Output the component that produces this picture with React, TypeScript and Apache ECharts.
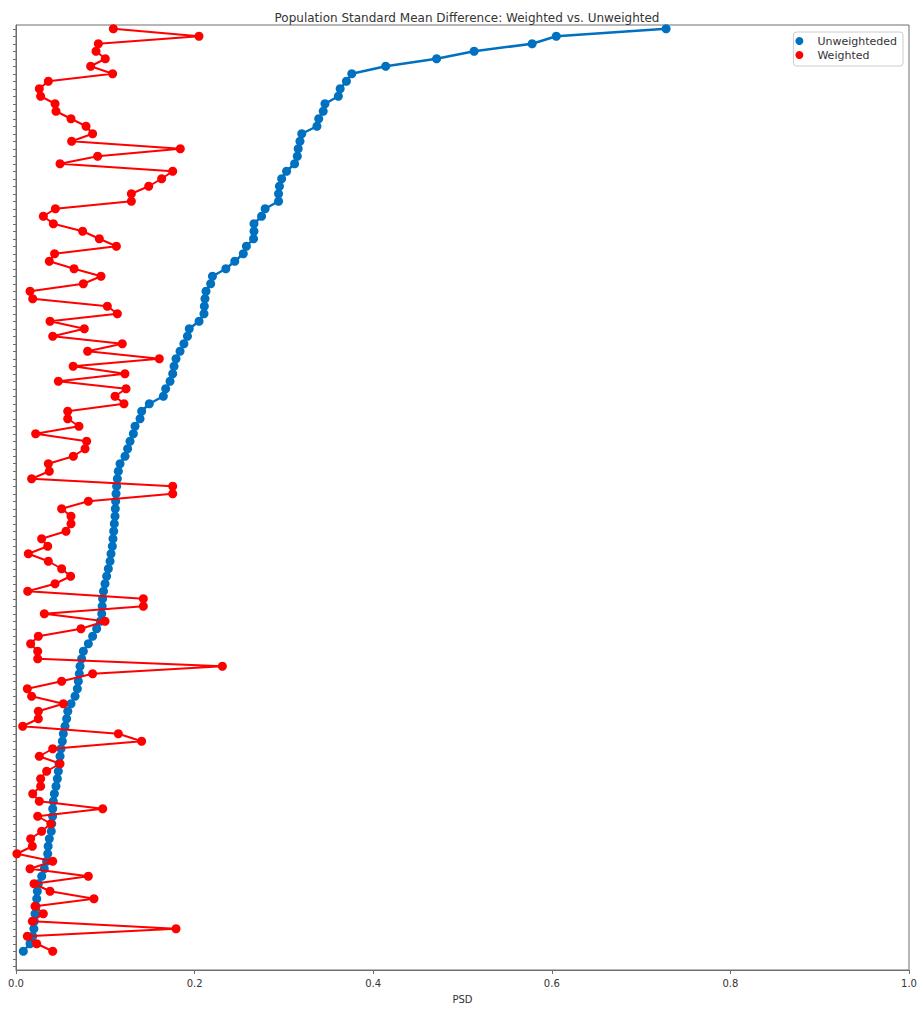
import React, { useEffect, useRef } from "react";
import * as echarts from "echarts";

const TITLE = "Population Standard Mean Difference: Weighted vs. Unweighted";
const SERIES_NAMES = ["Unweighteded", "Weighted"];
const X_MIN = 0;
const X_MAX = 1.0;
const X_INTERVAL = 0.2;
const N_CATEGORIES = 126;

// values listed from the top row of the chart to the bottom row
const unweighted = [
  0.728, 0.605, 0.578, 0.513, 0.471, 0.414, 0.376, 0.370, 0.363, 0.361,
  0.346, 0.344, 0.339, 0.337, 0.320, 0.318, 0.316, 0.315, 0.312, 0.303,
  0.2975, 0.295, 0.294, 0.294, 0.279, 0.275, 0.2665, 0.2665, 0.266, 0.258,
  0.2545, 0.245, 0.235, 0.220, 0.218, 0.2128, 0.2116, 0.2109, 0.2105, 0.205,
  0.194, 0.192, 0.188, 0.1837, 0.1792, 0.177, 0.1755, 0.1725, 0.1676, 0.165,
  0.1493, 0.1407, 0.1389, 0.1333, 0.1314, 0.1277, 0.125, 0.1221, 0.1165, 0.1146,
  0.1135, 0.1127, 0.112, 0.1116, 0.1112, 0.1109, 0.1101, 0.1094, 0.1086, 0.1079,
  0.1064, 0.1053, 0.1034, 0.1015, 0.0997, 0.098, 0.097, 0.0965, 0.096, 0.0945,
  0.0903, 0.0858, 0.081, 0.0754, 0.0735, 0.0717, 0.0709, 0.0698, 0.0687, 0.0661,
  0.0616, 0.058, 0.0567, 0.0549, 0.053, 0.0519, 0.0504, 0.0493, 0.0482, 0.0474,
  0.0463, 0.0448, 0.043, 0.0418, 0.0411, 0.041, 0.040, 0.0395, 0.0373, 0.036,
  0.0355, 0.0343, 0.0317, 0.0288, 0.025, 0.0239, 0.0232, 0.0224, 0.0213, 0.0205,
  0.020, 0.0187, 0.0157, 0.0082,
];

const weighted = [
  0.109, 0.2049, 0.0922, 0.0896, 0.100, 0.0836, 0.1082, 0.0362, 0.0261, 0.0276,
  0.0437, 0.0448, 0.0616, 0.0784, 0.0858, 0.0623, 0.184, 0.0914, 0.0493, 0.1755,
  0.1631, 0.1486, 0.1292, 0.1292, 0.0441, 0.0306, 0.0418, 0.0746, 0.0933, 0.1124,
  0.0432, 0.0373, 0.065, 0.0952, 0.0754, 0.0157, 0.0187, 0.1023, 0.1135, 0.0381,
  0.0765, 0.0411, 0.119, 0.0802, 0.1605, 0.064, 0.122, 0.0474, 0.1232, 0.1109,
  0.1209, 0.0579, 0.0579, 0.0705, 0.022, 0.0791, 0.0773, 0.0642, 0.0362, 0.0373,
  0.0175, 0.1755, 0.1755, 0.081, 0.0511, 0.0616, 0.0616, 0.056, 0.0287, 0.0355,
  0.0138, 0.0362, 0.0511, 0.0612, 0.0437, 0.0131, 0.1426, 0.1426, 0.0317, 0.0997,
  0.0728, 0.025, 0.0164, 0.0243, 0.0243, 0.2311, 0.0858, 0.0511, 0.0127, 0.0175,
  0.053, 0.025, 0.025, 0.0075, 0.1146, 0.1407, 0.0411, 0.0261, 0.0493, 0.0343,
  0.0276, 0.0276, 0.0187, 0.0261, 0.0971, 0.0243, 0.039, 0.0287, 0.0164, 0.0183,
  0.001, 0.0411, 0.0157, 0.081, 0.0202, 0.0381, 0.0873, 0.0213, 0.0306, 0.0183,
  0.1792, 0.0127, 0.0232, 0.0411,
];

const categories = Array.from({ length: N_CATEGORIES }, (_, k) => `feature_${k}`);

const toPairs = (vals: number[]) =>
  vals.map((v, i) => [v, categories[N_CATEGORIES - 1 - i]]);

export default function App() {
  const ref = useRef<HTMLDivElement>(null);

  useEffect(() => {
    if (!ref.current) return;
    const chart = echarts.init(ref.current, undefined, { renderer: "svg" });
    const axisGray = "#6e6e6e";
    const font = "DejaVu Sans";
    chart.setOption({
      animation: false,
      backgroundColor: "#ffffff",
      textStyle: { fontFamily: font },
      title: {
        text: TITLE,
        left: 462,
        textAlign: "center",
        top: 7,
        textStyle: { fontFamily: font, fontSize: 12, fontWeight: "normal", color: "#333" },
      },
      legend: {
        orient: "vertical",
        right: 19,
        top: 32,
        icon: "circle",
        itemWidth: 26,
        itemHeight: 8,
        itemGap: 2,
        padding: [3, 6, 5, 2],
        borderColor: "#cccccc",
        borderWidth: 1,
        borderRadius: 3,
        backgroundColor: "rgba(255,255,255,0.8)",
        textStyle: { fontFamily: font, fontSize: 11, color: "#333", lineHeight: 12 },
        data: SERIES_NAMES,
      },
      grid: {
        left: 16,
        right: 13,
        top: 25,
        bottom: 38,
        show: true,
        borderColor: axisGray,
        borderWidth: 1,
        backgroundColor: "transparent",
      },
      xAxis: {
        type: "value",
        min: X_MIN,
        max: X_MAX,
        interval: X_INTERVAL,
        name: "PSD",
        nameLocation: "middle",
        nameGap: 24,
        nameTextStyle: { fontFamily: font, fontSize: 10, color: "#333" },
        axisLine: { show: true, lineStyle: { color: axisGray, width: 1 } },
        axisTick: { show: true, length: 4, lineStyle: { color: axisGray } },
        axisLabel: {
          fontFamily: font,
          fontSize: 10,
          color: "#333",
          margin: 8,
          formatter: (v: number) => v.toFixed(1),
        },
        splitLine: { show: false },
      },
      yAxis: {
        type: "category",
        data: categories,
        boundaryGap: true,
        axisLine: { show: true, lineStyle: { color: axisGray, width: 1 } },
        axisTick: {
          show: true,
          alignWithLabel: true,
          interval: 0,
          length: 3,
          lineStyle: { color: axisGray },
        },
        axisLabel: { show: false },
        splitLine: { show: false },
      },
      series: [
        {
          name: SERIES_NAMES[0],
          type: "line",
          data: toPairs(unweighted),
          symbol: "circle",
          symbolSize: 9,
          showSymbol: true,
          showAllSymbol: true,
          itemStyle: { color: "#0070C0" },
          lineStyle: { color: "#0070C0", width: 2.5 },
          z: 2,
        },
        {
          name: SERIES_NAMES[1],
          type: "line",
          data: toPairs(weighted),
          symbol: "circle",
          symbolSize: 9,
          showSymbol: true,
          showAllSymbol: true,
          itemStyle: { color: "#ff0000" },
          lineStyle: { color: "#ff0000", width: 2 },
          z: 3,
        },
      ],
    });
    return () => chart.dispose();
  }, []);

  return (
    <div
      ref={ref}
      style={{ position: "fixed", left: 0, top: 0, width: 922, height: 1009 }}
    />
  );
}
